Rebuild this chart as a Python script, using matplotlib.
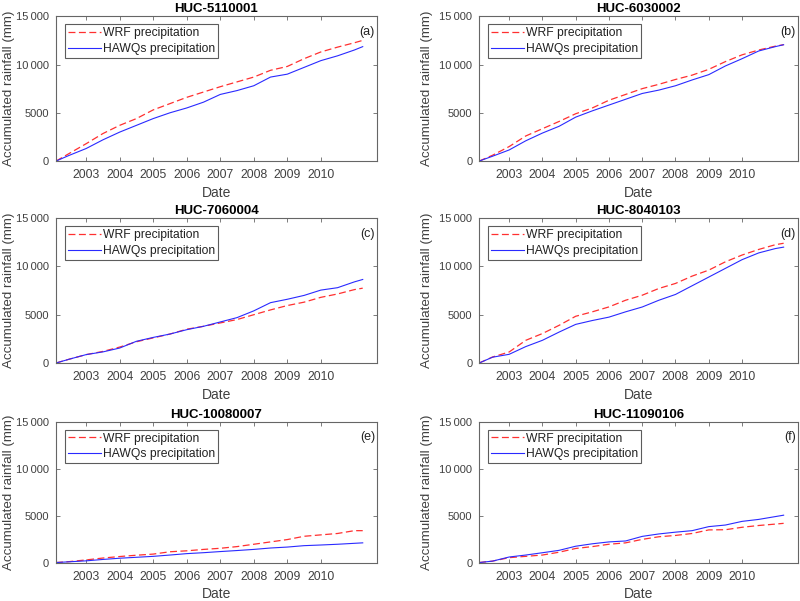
import matplotlib
matplotlib.use("Agg")
import matplotlib.pyplot as plt

# sample dates (decimal years) at which the accumulated curves were read
years = [2002.1, 2002.5, 2003, 2003.5, 2004, 2004.5, 2005, 2005.5, 2006, 2006.5,
         2007, 2007.5, 2008, 2008.5, 2009, 2009.5, 2010, 2010.5, 2011, 2011.25]

titles = ["HUC-5110001", "HUC-6030002", "HUC-7060004",
          "HUC-8040103", "HUC-10080007", "HUC-11090106"]
panel_tags = ["(a)", "(b)", "(c)", "(d)", "(e)", "(f)"]

# accumulated rainfall (mm)
wrf_a = [0, 800, 1800, 2850, 3700, 4400, 5300, 5950, 6600, 7150,
         7700, 8200, 8700, 9400, 9800, 10600, 11300, 11800, 12250, 12500]
hawqs_a = [0, 600, 1300, 2200, 3000, 3700, 4400, 5000, 5500, 6100,
           6900, 7300, 7800, 8700, 9000, 9700, 10400, 10900, 11500, 11850]

wrf_b = [0, 600, 1500, 2600, 3350, 4100, 4900, 5500, 6300, 6900,
         7500, 7950, 8450, 8900, 9500, 10300, 11000, 11500, 11900, 12050]
hawqs_b = [0, 500, 1150, 2100, 2900, 3600, 4550, 5200, 5800, 6400,
           7000, 7350, 7800, 8400, 8950, 9850, 10600, 11400, 11850, 12050]

wrf_c = [0, 400, 870, 1200, 1650, 2200, 2600, 3000, 3500, 3800,
         4150, 4500, 5000, 5500, 5950, 6300, 6800, 7150, 7600, 7750]
hawqs_c = [0, 400, 870, 1150, 1550, 2250, 2650, 3000, 3450, 3800,
           4250, 4700, 5400, 6250, 6600, 7000, 7550, 7800, 8400, 8650]

wrf_d = [0, 620, 1140, 2350, 3050, 3900, 4840, 5300, 5810, 6500,
         7020, 7720, 8240, 9000, 9620, 10480, 11180, 11760, 12250, 12400]
hawqs_d = [0, 600, 900, 1700, 2350, 3200, 4000, 4400, 4750, 5300,
           5800, 6500, 7100, 8000, 8900, 9800, 10700, 11400, 11850, 12000]

wrf_e = [0, 100, 280, 480, 640, 780, 900, 1150, 1250, 1400,
         1520, 1700, 1950, 2200, 2450, 2800, 2950, 3100, 3400, 3400]
hawqs_e = [0, 80, 180, 330, 460, 560, 660, 800, 950, 1050,
           1170, 1280, 1400, 1550, 1650, 1800, 1870, 1950, 2050, 2100]

wrf_f = [0, 150, 520, 660, 800, 1100, 1500, 1700, 1950, 2100,
         2470, 2750, 2890, 3100, 3480, 3500, 3760, 3950, 4100, 4180]
hawqs_f = [0, 150, 590, 800, 1045, 1300, 1740, 2000, 2200, 2300,
           2790, 3050, 3240, 3400, 3830, 4000, 4390, 4600, 4900, 5050]

wrf_series = [wrf_a, wrf_b, wrf_c, wrf_d, wrf_e, wrf_f]
hawqs_series = [hawqs_a, hawqs_b, hawqs_c, hawqs_d, hawqs_e, hawqs_f]

year_ticks = [2003, 2004, 2005, 2006, 2007, 2008, 2009, 2010]
y_ticks = [0, 5000, 10000, 15000]
y_tick_labels = ["0", "5000", "10\u2009000", "15\u2009000"]

plt.rcParams['font.family'] = ['Liberation Sans', 'DejaVu Sans']
plt.rcParams['lines.scale_dashes'] = False

grey_text = '#404040'
spine_col = '#666666'

# axes boxes in figure fraction: left, bottom, width, height
boxes = [
    [0.070, 0.732, 0.401, 0.241], [0.599, 0.732, 0.398, 0.241],
    [0.070, 0.396, 0.401, 0.241], [0.599, 0.396, 0.398, 0.241],
    [0.070, 0.064, 0.401, 0.234], [0.599, 0.064, 0.398, 0.234],
]
# x position (axes fraction) of the y label's right edge, left / right column
ylabel_x = [-0.128, -0.145]

fig = plt.figure(figsize=(8.0, 6.01), dpi=100)

for i in range(6):
    ax = fig.add_axes(boxes[i])
    ax.plot(years, wrf_series[i], color='#ff3030', lw=0.9, dashes=(5, 2.5),
            label='WRF precipitation')
    ax.plot(years, hawqs_series[i], color='#2a2aff', lw=0.8,
            label='HAWQs precipitation')

    ax.set_xlim(2002.1, 2011.67)
    ax.set_ylim(0, 15000)
    ax.set_xticks(year_ticks)
    ax.set_xticklabels([str(y) for y in year_ticks])
    ax.set_yticks(y_ticks)
    ax.set_yticklabels(y_tick_labels)

    ax.tick_params(direction='in', top=True, right=True, length=3, width=0.6,
                   colors=spine_col, labelcolor=grey_text)
    ax.tick_params(axis='x', pad=6, labelsize=8.7)
    ax.tick_params(axis='y', pad=5, labelsize=8)
    for sp in ax.spines.values():
        sp.set_color(spine_col)
        sp.set_linewidth(0.8)

    ax.set_title(titles[i], fontsize=9.5, fontweight='bold', pad=3)
    ax.set_xlabel('Date', fontsize=10, color=grey_text, labelpad=3)
    ax.set_ylabel('Accumulated rainfall (mm)', fontsize=9.6, color=grey_text)
    ax.yaxis.set_label_coords(ylabel_x[i % 2], 0.5)

    ax.text(0.994, 0.89, panel_tags[i], transform=ax.transAxes, ha='right',
            va='center', fontsize=9, color='#222222')

    leg = ax.legend(loc='upper left', bbox_to_anchor=(0.028, 0.945),
                    borderaxespad=0, fontsize=8.7, frameon=True, fancybox=False,
                    handlelength=2.7, handletextpad=0.2, labelspacing=0.3,
                    borderpad=0.25)
    leg.get_frame().set_edgecolor('#333333')
    leg.get_frame().set_linewidth(0.8)
    for t in leg.get_texts():
        t.set_color('#222222')

fig.savefig('out.png', dpi=100)
plt.close(fig)
